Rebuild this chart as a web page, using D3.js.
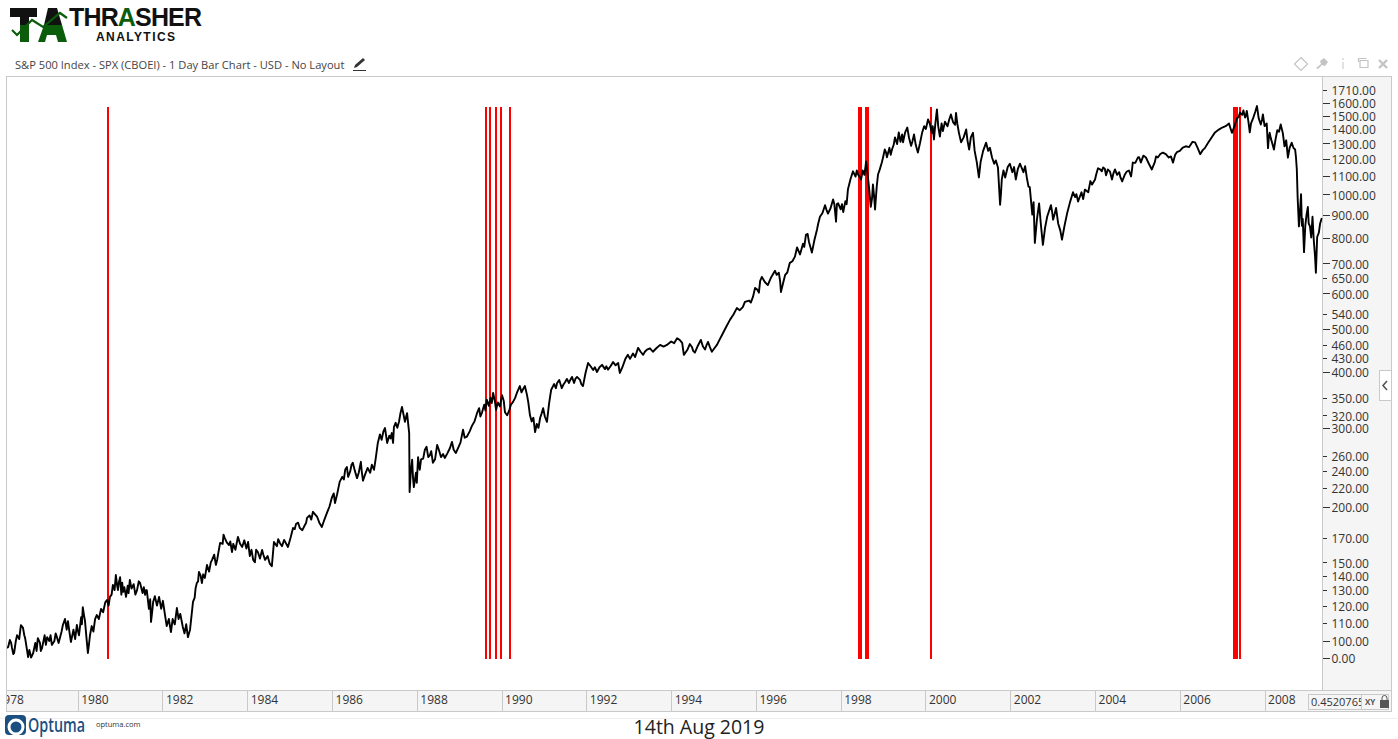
<!DOCTYPE html>
<html><head><meta charset="utf-8"><title>S&amp;P 500</title>
<script src="https://cdn.jsdelivr.net/npm/d3@7"></script>
<style>
html,body{margin:0;padding:0;background:#fff;overflow:hidden}
svg{display:block}
text{font-family:"Open Sans",sans-serif}
</style></head><body><div id="c"></div>
<script>
const years = [1978.33,1978.40,1978.45,1978.50,1978.57,1978.71,1978.76,1978.83,1978.95,1979.06,1979.16,1979.28,1979.39,1979.51,1979.58,1979.65,1979.77,1979.84,1979.98,1980.03,1980.12,1980.17,1980.24,1980.29,1980.45,1980.69,1980.76,1980.83,1980.90,1980.95,1981.00,1981.07,1981.14,1981.23,1981.40,1981.47,1981.59,1981.63,1981.73,1981.78,1981.92,1982.06,1982.20,1982.34,1982.48,1982.60,1982.72,1982.81,1982.86,1982.93,1983.00,1983.17,1983.29,1983.36,1983.47,1983.57,1983.64,1983.78,1983.88,1984.02,1984.14,1984.25,1984.35,1984.42,1984.58,1984.63,1984.77,1984.87,1984.96,1985.08,1985.15,1985.24,1985.36,1985.41,1985.55,1985.65,1985.76,1985.88,1986.00,1986.07,1986.24,1986.31,1986.38,1986.49,1986.59,1986.68,1986.73,1986.94,1986.99,1987.08,1987.25,1987.30,1987.41,1987.44,1987.46,1987.58,1987.65,1987.72,1987.77,1987.82,1987.83,1987.89,1987.93,1988.03,1988.07,1988.19,1988.31,1988.38,1988.48,1988.66,1988.83,1988.92,1989.09,1989.18,1989.42,1989.54,1989.65,1989.77,1989.80,1989.87,1990.01,1990.13,1990.27,1990.36,1990.50,1990.60,1990.67,1990.79,1990.91,1990.98,1991.07,1991.17,1991.31,1991.42,1991.50,1991.66,1991.71,1991.78,1991.92,1992.04,1992.25,1992.37,1992.51,1992.63,1992.75,1992.79,1992.98,1993.15,1993.22,1993.34,1993.43,1993.57,1993.74,1993.90,1994.14,1994.26,1994.30,1994.49,1994.56,1994.70,1994.80,1994.87,1994.96,1995.08,1995.20,1995.39,1995.55,1995.69,1995.74,1995.93,1995.98,1996.07,1996.14,1996.28,1996.45,1996.54,1996.59,1996.69,1996.80,1996.92,1996.97,1997.04,1997.18,1997.25,1997.32,1997.44,1997.51,1997.63,1997.70,1997.82,1997.89,1997.94,1998.06,1998.17,1998.29,1998.41,1998.48,1998.60,1998.64,1998.71,1998.76,1998.81,1998.88,1998.97,1999.04,1999.09,1999.21,1999.28,1999.45,1999.47,1999.57,1999.66,1999.73,1999.82,1999.92,2000.06,2000.15,2000.20,2000.27,2000.34,2000.46,2000.60,2000.70,2000.72,2000.84,2000.96,2001.03,2001.12,2001.26,2001.43,2001.57,2001.71,2001.76,2001.80,2001.99,2002.13,2002.23,2002.39,2002.46,2002.58,2002.68,2002.77,2002.87,2002.96,2003.01,2003.08,2003.22,2003.34,2003.48,2003.60,2003.76,2003.93,2004.00,2004.07,2004.19,2004.26,2004.30,2004.40,2004.47,2004.64,2004.75,2004.85,2004.89,2005.01,2005.08,2005.20,2005.34,2005.48,2005.60,2005.74,2005.84,2005.93,2006.07,2006.36,2006.48,2006.59,2006.83,2007.00,2007.16,2007.23,2007.35,2007.42,2007.54,2007.58,2007.65,2007.82,2007.91,2007.96,2008.08,2008.12,2008.22,2008.38,2008.55,2008.64,2008.72,2008.76,2008.81,2008.86,2008.93,2009.02,2009.07,2009.19,2009.21,2009.24,2009.35];
const prices = [96.5,100.5,96.5,94,103,107,101.5,92,94,101.5,96.5,102,98,102,101.5,108.6,110.8,99.5,108.6,103,119,111.4,94,103,114.3,123.5,125.5,133.5,140.5,130,139,128.8,125.5,137,130,135,126.8,130,110.3,122.3,125.5,114.3,104.7,118.5,107.5,102,122.3,134.8,142.8,134.8,138.4,151.9,151.9,165.8,170,164,158.2,171,162.3,166.6,151.9,158.2,159.9,151.9,147,166.6,165.8,168.4,162.3,179,182.8,179,181.8,188.6,194.6,189.5,180,193.6,210,203.6,233,241.7,233,250.5,231.5,251.8,228.4,248,241.7,277.5,299.7,277.5,292,277.5,301,309.5,334,309.5,323.5,292,215.5,254.5,221,258,241.7,268,260.7,250.5,274.6,256.8,279,263.5,297,286.6,323.5,325,347,341,359,329,355,320,343,359,365,355,320,293.4,316,332,309.5,365,378,368,380,390,378,390,372,419,400,415,405,421,419,398,437,432,453,437,449,444,460,460,476,465,437,455,442,472,449,467,444,460,484,524,556,559,574,589,617,602,653,626,674,667,604,660,702,725,760,733,811,783,740,833,890,945,905,973,868,954,912,1024,1125,1107,1079,1184,1096,937,1051,924,1107,1177,1259,1209,1259,1340,1360,1307,1410,1283,1360,1239,1372,1470,1372,1326,1548,1346,1453,1508,1430,1520,1306,1396,1259,1372,1090,1304,1208,1147,947,1079,1170,1079,1170,1090,1037,778,954,770,890,945,877,932,791,905,1010,963,1024,1051,1079,1143,1148,1102,1136,1079,1136,1068,1124,1096,1177,1208,1177,1208,1136,1208,1239,1208,1177,1242,1272,1306,1229,1268,1375,1410,1440,1372,1478,1523,1484,1536,1375,1575,1432,1508,1268,1372,1259,1432,1208,1304,1259,1136,847,1000,742,936,847,725,667,802,885];
const wiggleYears = [1978.36,1978.43,1978.48,1978.54,1978.62,1978.66,1978.74,1978.80,1978.86,1978.90,1979.00,1979.03,1979.11,1979.13,1979.22,1979.25,1979.33,1979.36,1979.45,1979.48,1979.55,1979.62,1979.70,1979.74,1979.81,1979.90,1979.94,1980.00,1980.08,1980.10,1980.15,1980.21,1980.27,1980.33,1980.37,1980.41,1980.50,1980.55,1980.60,1980.65,1980.73,1980.80,1980.87,1980.93,1980.97,1981.03,1981.05,1981.10,1981.18,1981.20,1981.27,1981.32,1981.36,1981.44,1981.53,1981.56,1981.61,1981.68,1981.71,1981.76,1981.82,1981.87,1981.97,1982.01,1982.10,1982.15,1982.24,1982.29,1982.38,1982.42,1982.52,1982.56,1982.65,1982.69,1982.76,1982.78,1982.84,1982.90,1982.96,
1983.05,1983.10,1983.14,1983.22,1983.26,1983.33,1983.42,1983.44,1983.52,1983.60,1983.67,1983.72,1983.83,1983.93,1983.98,1984.06,1984.10,1984.18,1984.21,1984.30,1984.38,1984.48,1984.53,1984.70,1984.73,1984.82,1984.92,1985.02,1985.12,1985.20,1985.30,1985.39,1985.47,1985.51,1985.60,1985.70,1985.82,1985.94,1986.04,1986.12,1986.18,1986.28,1986.35,1986.43,1986.46,1986.54,1986.63,1986.70,1986.78,1986.84,1986.90,1987.03,1987.13,1987.17,1987.21,1987.35,1987.38,1987.50,1987.54,1987.61,1987.69,1987.75,
1987.86,1987.91,1987.98,1988.00,1988.05,1988.10,1988.15,1988.23,1988.27,1988.34,1988.43,1988.52,1988.57,1988.62,1988.72,1988.78,1988.87,1988.97,1989.03,1989.13,1989.25,1989.30,1989.36,1989.47,1989.50,1989.59,1989.62,1989.70,1989.74,1989.84,1989.91,1989.96,1990.05,1990.08,1990.18,1990.22,1990.32,1990.43,1990.47,1990.55,1990.63,1990.71,1990.75,1990.83,1990.87,1990.94,1991.02,1991.12,1991.15,1991.24,1991.28,1991.36,1991.46,1991.54,1991.59,1991.62,
1991.74,1991.85,1991.88,1991.98,1992.10,1992.16,1992.20,1992.31,1992.44,1992.47,1992.57,1992.69,1992.85,1992.92,1993.03,1993.10,1993.28,1993.38,1993.50,1993.65,1993.82,1994.00,1994.07,1994.20,1994.38,1994.44,1994.52,1994.63,1994.75,1994.83,1994.91,1995.02,1995.14,1995.30,1995.47,1995.62,1995.84,1995.88,1996.03,1996.10,1996.21,1996.36,1996.49,1996.57,1996.64,1996.74,1996.86,1997.01,1997.11,1997.14,1997.22,1997.28,1997.38,1997.47,1997.57,1997.66,1997.76,1997.85,1997.91,1998.00,1998.03,1998.11,1998.14,1998.23,1998.35,1998.38,
1998.52,1998.56,1998.67,1998.74,1998.79,1998.85,1998.92,1999.00,1999.07,1999.15,1999.18,1999.25,1999.33,1999.37,1999.41,1999.52,1999.61,1999.69,1999.77,1999.87,1999.97,2000.01,2000.10,2000.17,2000.23,2000.30,2000.38,2000.41,2000.52,2000.56,2000.65,2000.75,2000.79,2000.90,2000.99,2001.07,2001.16,2001.21,2001.30,2001.36,2001.48,2001.52,2001.62,2001.66,2001.78,2001.84,2001.88,2001.94,2002.05,2002.09,2002.18,2002.31,2002.35,2002.43,2002.52,2002.55,2002.63,2002.72,2002.82,2002.91,2002.99,2003.05,2003.13,2003.18,2003.28,2003.41,2003.53,2003.56,2003.68,2003.72,2003.84,2003.89,
2004.03,2004.13,2004.16,2004.23,2004.35,2004.43,2004.52,2004.57,2004.60,2004.70,2004.80,2004.87,2004.95,2005.04,2005.14,2005.27,2005.41,2005.44,2005.54,2005.67,2005.79,2005.89,2006.00,2006.14,2006.22,2006.30,2006.42,2006.54,2006.66,2006.75,2006.92,2007.08,2007.20,2007.29,
2007.39,2007.47,2007.50,2007.56,2007.62,2007.68,2007.73,2007.78,2007.86,2007.94,2008.00,2008.05,2008.10,2008.15,2008.18,2008.26,2008.30,2008.34,2008.43,2008.47,2008.51,2008.59,2008.68,2008.74,2008.78,2008.83,2008.88,2008.90,2008.96,2008.99,2009.04,2009.10,2009.13,2009.16,2009.28,2009.31];
const wigglePrices = [97,99,93.5,100,101,108.5,103,96,95.5,91.8,99,95,99,95,103,98,100,103,100,104,99,105,112,106,104,106,101,106,113,109,114,101,99,108,105,112,112,118,116,122,120,127,130,133,135,127,135,132,133,128,131,134,127,136,128,132,130,118,124,117,126,120,118,123,108,112,112,109,112,115,104,109,106,115,125,131,136,140,141,
148,143,150,156,148,160,165,173,166,167,165,160,165,168,161,155,160,150,160,153,156,155,149,163,169,163,165,170,178,184,177,184,191,187,192,184,187,200,214,213,227,230,245,240,248,240,238,240,236,244,238,256,290,282,294,288,284,308,300,322,320,318,
240,232,238,226,248,255,256,272,258,266,255,268,258,262,263,270,268,270,278,285,295,303,310,332,318,338,328,336,350,345,342,335,345,325,328,338,350,372,360,372,342,310,316,306,300,322,318,340,355,376,368,384,375,386,378,384,
386,384,376,398,412,404,410,410,406,412,412,414,410,428,428,440,444,444,452,452,456,468,464,472,448,462,446,458,456,458,456,452,472,505,538,550,578,572,612,640,636,652,660,640,632,668,708,745,775,762,815,765,790,860,908,925,930,950,950,925,950,965,950,1080,1095,1130,
1130,1105,1030,980,985,1040,1135,1210,1240,1270,1225,1290,1295,1375,1310,1375,1340,1310,1290,1300,1420,1400,1440,1420,1430,1420,1440,1385,1420,1470,1450,1440,1370,1340,1320,1340,1250,1180,1180,1250,1250,1270,1170,1190,1000,1130,1090,1150,1120,1150,1140,1120,1155,1040,900,960,880,860,840,915,910,905,860,830,850,960,985,1000,1010,975,1010,1070,
1110,1135,1125,1140,1125,1110,1105,1120,1090,1105,1130,1130,1175,1210,1220,1170,1180,1215,1230,1230,1215,1225,1250,1280,1275,1310,1270,1255,1300,1340,1395,1420,1400,1420,
1490,1505,1540,1500,1450,1440,1480,1530,1480,1470,1420,1440,1340,1330,1300,1330,1390,1380,1370,1280,1320,1270,1270,1210,980,900,850,880,850,900,860,800,890,790,820,860];
const signalYears = [1980.715,1989.632,1989.733,1989.87,1989.99,1990.20,1998.43,1998.48,1998.60,1998.64,2000.13,2007.28,2007.33,2007.35,2007.42];
const yTickValues = [91.6,100,110,120,130,140,150,170,200,220,240,260,300,320,350,400,430,460,500,540,600,650,700,800,900,1000,1100,1200,1300,1400,1500,1600,1710];
const yTickLabels = ["0.00","100.00","110.00","120.00","130.00","140.00","150.00","170.00","200.00","220.00","240.00","260.00","300.00","320.00","350.00","400.00","430.00","460.00","500.00","540.00","600.00","650.00","700.00","800.00","900.00","1000.00","1100.00","1200.00","1300.00","1400.00","1500.00","1600.00","1710.00"];
const yMajorTicks = [91.6,100,200,300,400,500,600,700,800,900,1000,1100,1200,1300,1400,1500,1600];
const xTickYears = [1978,1980,1982,1984,1986,1988,1990,1992,1994,1996,1998,2000,2002,2004,2006,2008];
const chartTitle = "S&P 500 Index - SPX (CBOEI) - 1 Day Bar Chart - USD - No Layout";
const dateCaption = "14th Aug 2019";

const W=1398,H=739, L=6.5,T=76.5,PR=1322.5,PB=690.5,R=1391.5,B=711.5;
const svg=d3.select("#c").append("svg").attr("width",W).attr("height",H).attr("viewBox",`0 0 ${W} ${H}`);
const x=d3.scaleLinear().domain([1980,2008]).range([77.7,1264.6]);
const y=d3.scaleLog().domain([100,1600]).range([641,103]);
const defs=svg.append("defs");
defs.append("clipPath").attr("id","plot").append("rect").attr("x",L+0.5).attr("y",T).attr("width",PR-L-0.5).attr("height",PB-T);
defs.append("clipPath").attr("id","xband").append("rect").attr("x",L+0.5).attr("y",PB).attr("width",R-L-0.5).attr("height",B-PB);
defs.append("clipPath").attr("id","val").append("rect").attr("x",1308).attr("y",694).attr("width",53).attr("height",15);

// frame
const border="#c9c9c9";
svg.append("rect").attr("x",L).attr("y",T).attr("width",R-L).attr("height",B-T).attr("fill","#fff").attr("stroke",border);
svg.append("rect").attr("x",PR).attr("y",T).attr("width",R-PR).attr("height",PB-T).attr("fill","#f5f5f5").attr("stroke",border);
svg.append("rect").attr("x",L).attr("y",PB).attr("width",R-L).attr("height",B-PB).attr("fill","#f5f5f5").attr("stroke",border);
svg.append("line").attr("x1",0).attr("x2",W).attr("y1",718.5).attr("y2",718.5).attr("stroke","#efefef");

// signals + price
const plot=svg.append("g").attr("clip-path","url(#plot)");
plot.selectAll("line.sig").data(signalYears).join("line").attr("class","sig")
 .attr("x1",d=>x(d)).attr("x2",d=>x(d)).attr("y1",y(1600)+4).attr("y2",y(91.6)+1)
 .attr("stroke","#ff0000").attr("stroke-width",2).attr("shape-rendering","crispEdges");
const pts=d3.zip(years.concat(wiggleYears),prices.concat(wigglePrices)).sort((a,b)=>a[0]-b[0]);
plot.append("path").datum(pts).attr("fill","none").attr("stroke","#000").attr("stroke-width",1.9)
 .attr("stroke-linejoin","round").attr("d",d3.line().x(d=>x(d[0])).y(d=>y(d[1])));

// y axis
const yAxis=d3.axisRight(y).tickValues(yTickValues).tickFormat((d,i)=>yTickLabels[i]).tickSize(7).tickPadding(2);
const gy=svg.append("g").attr("transform",`translate(${PR},0)`).call(yAxis);
gy.select(".domain").remove();
gy.selectAll(".tick line").attr("stroke","#333").attr("shape-rendering","crispEdges").attr("x2",d=>yMajorTicks.includes(d)?7:4);
gy.selectAll(".tick text").attr("fill","#333").attr("font-size",12).attr("font-family",'"Open Sans",sans-serif').attr("y",1);

// x axis
const gxWrap=svg.append("g").attr("clip-path","url(#xband)");
const xAxis=d3.axisBottom(x).tickValues(xTickYears).tickFormat(d3.format("d")).tickSize(21);
const gx=gxWrap.append("g").attr("transform",`translate(0,${PB})`).call(xAxis);
gx.select(".domain").remove();
gx.selectAll(".tick line").attr("stroke",border).attr("shape-rendering","crispEdges");
gx.selectAll(".tick text").attr("fill","#333").attr("font-size",12).attr("font-family",'"Open Sans",sans-serif')
 .attr("text-anchor","start").attr("x",3).attr("y",10).attr("dy","0.3em");

// value box
svg.append("rect").attr("x",1308.5).attr("y",694.5).attr("width",80).attr("height",15).attr("fill","#f5f5f5").attr("stroke",border);
svg.append("line").attr("x1",1361.5).attr("x2",1361.5).attr("y1",694.5).attr("y2",709.5).attr("stroke",border);
svg.append("g").attr("clip-path","url(#val)").append("text").attr("x",1311).attr("y",706).attr("font-size",11).attr("fill","#333").text("0.4520765");
svg.append("text").attr("x",1365).attr("y",705).attr("font-size",8).attr("font-weight",700).attr("fill","#555").text("XY");
svg.append("path").attr("d","M1380 700h9v8h-9z").attr("fill","#555");
svg.append("path").attr("d","M1382 700v-2a2.500 2.500 0 0 1 5 0v2").attr("fill","none").attr("stroke","#555").attr("stroke-width",1);

// side handle
svg.append("rect").attr("x",1379.5).attr("y",370.5).attr("width",12).attr("height",30).attr("fill","#fff").attr("stroke",border);
svg.append("path").attr("d","M1387 381l-4 4.500 4 4.500").attr("fill","none").attr("stroke","#555").attr("stroke-width",1.6);

// title row
svg.append("text").attr("x",15).attr("y",69).attr("font-size",11.14).attr("fill","#444").text(chartTitle);
svg.append("path").attr("d","M354 68l1-3 8-7 2 2-8 7z").attr("fill","#333");
svg.append("line").attr("x1",353).attr("x2",366).attr("y1",70.500).attr("y2",70.500).attr("stroke","#333");

// top-right icons
const ic="#c4c4c4";
svg.append("path").attr("d","M1301 57.500l6.500 6.500-6.500 6.500-6.500-6.500z").attr("fill","#fff").attr("stroke",ic).attr("stroke-width",1.2);
svg.append("path").attr("d","M1316 68l5-4-1-3 4-3 4 4-3 4-3-1-4 4z").attr("fill",ic);
svg.append("path").attr("d","M1342 58h2v2h-2z M1342 62h2v7h-2z").attr("fill","#e2e2e2");
svg.append("path").attr("d","M1360 60.500h8v7h-8z M1358.500 62v-3.500h8").attr("fill","none").attr("stroke",ic).attr("stroke-width",1.2);
svg.append("path").attr("d","M1379 60l8 8 M1387 60l-8 8").attr("fill","none").attr("stroke",ic).attr("stroke-width",2.4);

// Thrasher logo
const green="#0b5d0b";
svg.append("path").attr("d","M10 8h27v9h-8v8h-9v-8h-10z").attr("fill","#111");
svg.append("path").attr("d","M20 25h9v17h-9z").attr("fill",green);
svg.append("path").attr("d","M48 8l9 0 5 17h-18z").attr("fill","#111");
svg.append("path").attr("d","M44 25h18l5 17h-9l-2-7h-9l-2 7h-7z").attr("fill",green);
svg.append("path").attr("d","M12 30l5 5 15-15 11 7 17-14 7 5").attr("fill","none").attr("stroke",green).attr("stroke-width",2.2);
const logo=svg.append("text").attr("x",69).attr("y",26).attr("font-weight",700).attr("font-size",25).attr("fill","#111").attr("textLength",133);
logo.style("font-family",'"Liberation Sans",sans-serif');
logo.append("tspan").text("THR");logo.append("tspan").attr("fill",green).text("A");logo.append("tspan").text("SHER");
svg.append("text").attr("x",96).attr("y",41).style("font-family",'"Liberation Sans",sans-serif').attr("font-weight",700).attr("font-size",12).attr("fill","#111").attr("textLength",79).text("ANALYTICS");

// Optuma footer
svg.append("rect").attr("x",5).attr("y",715).attr("width",21).attr("height",20).attr("rx",4).attr("fill","#1b4f80");
svg.append("circle").attr("cx",16).attr("cy",727).attr("r",7).attr("fill","none").attr("stroke","#fff").attr("stroke-width",3);
svg.append("text").attr("x",28).attr("y",732).attr("font-size",19).attr("font-weight",600).attr("fill","#1b4f80").attr("textLength",57).attr("lengthAdjust","spacingAndGlyphs").text("Optuma");
svg.append("text").attr("x",96).attr("y",727).attr("font-size",7.500).attr("fill","#333").text("optuma.com");
svg.append("text").attr("x",699).attr("y",734).attr("text-anchor","middle").attr("font-size",19.5).attr("fill","#222").text(dateCaption);
</script></body></html>
